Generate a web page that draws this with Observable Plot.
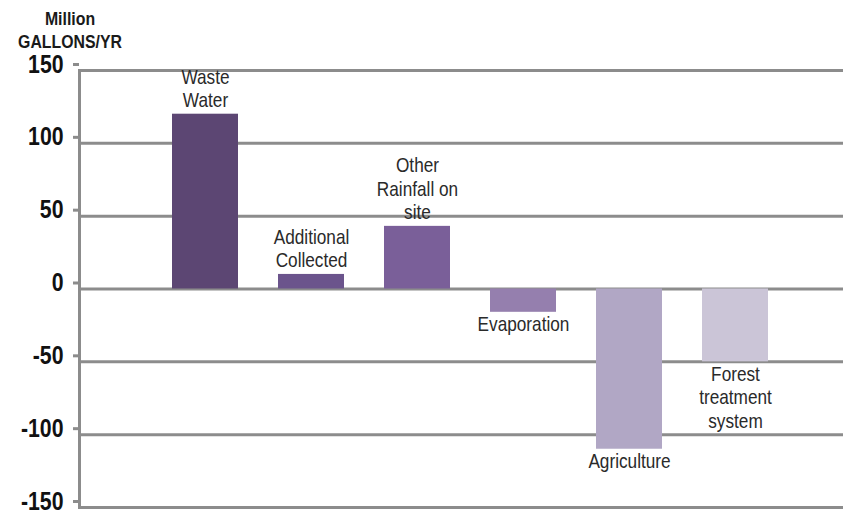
<!DOCTYPE html>
<html>
<head>
<meta charset="utf-8">
<script src="https://cdn.jsdelivr.net/npm/d3@7"></script>
<script src="https://cdn.jsdelivr.net/npm/@observablehq/plot@0.6"></script>
<style>
  html, body { margin: 0; padding: 0; background: #fff; }
  #wrap { position: relative; width: 843px; height: 512px; }
  #unit {
    position: absolute; left: 0; top: 8px; width: 140px;
    text-align: center; font-family: "Liberation Sans", Arial, sans-serif;
    font-weight: bold; font-size: 18px; line-height: 23px; color: #1a1a1a;
    transform: scaleX(0.88); transform-origin: 70px 0;
  }
  svg { display: block; }
</style>
</head>
<body>
<div id="wrap">
  <div id="chart"></div>
  <div id="unit">Million<br>GALLONS/YR</div>
</div>
<script>
// Annual water balance, million gallons per year
const categories = ["Waste Water", "Additional Collected", "Other Rainfall on site", "Evaporation", "Agriculture", "Forest treatment system"];
const labels = ["Waste\nWater", "Additional\nCollected", "Other\nRainfall on\nsite", "Evaporation", "Agriculture", "Forest\ntreatment\nsystem"];
const values = [120, 10, 43, -16, -110, -50];
const colors = ["#5c4673", "#6b548c", "#7a5f99", "#957fae", "#b1a7c5", "#cbc5d7"];
const yTicks = [150, 100, 50, 0, -50, -100, -150];

const rows = categories.map((c, i) => ({category: c, label: labels[i], value: values[i], color: colors[i]}));
const font = '"Liberation Sans", Arial, sans-serif';

const chart = Plot.plot({
  width: 843,
  height: 512,
  marginLeft: 79,
  marginRight: 0,
  marginTop: 70,
  marginBottom: 5,
  style: {fontFamily: font, fontSize: "21px", background: "#fff"},
  x: {domain: categories, range: [152, 788], paddingInner: 0.377, paddingOuter: 0.1885, axis: null},
  y: {domain: [-150, 150], axis: null},
  marks: [
    Plot.ruleY(yTicks, {stroke: "#8c8c8c", strokeWidth: 3}),
    Plot.barY(rows, {x: "category", y: "value", fill: "color"}),
    Plot.frame({anchor: "left", stroke: "#8c8c8c", strokeWidth: 3}),
    Plot.axisY(yTicks, {
      label: null, tickSize: 6, tickPadding: 10, stroke: "#8c8c8c", strokeWidth: 3,
      fill: "#111", fontSize: 25, fontWeight: "bold", dy: -6,
      tickFormat: d => String(d)
    }),
    Plot.text(rows.filter(d => d.value > 0), {
      x: "category", y: "value", text: "label", lineAnchor: "bottom",
      lineHeight: 1.12, dy: -7, fill: "#2a2a2a", fontSize: 21
    }),
    Plot.text(rows.filter(d => d.value < 0), {
      x: "category", y: "value", text: "label", lineAnchor: "top",
      lineHeight: 1.12, dy: 2, fill: "#2a2a2a", fontSize: 21
    })
  ]
});

// Narrow the glyphs around each text's own anchor for a condensed typeface look
chart.querySelectorAll("text").forEach(t => {
  const bold = t.closest("[font-weight='bold']") || t.getAttribute("font-weight") === "bold";
  const s = bold ? 0.85 : 0.82;
  t.setAttribute("transform", `${t.getAttribute("transform") || ""} scale(${s},1)`);
});

document.getElementById("chart").appendChild(chart);
</script>
</body>
</html>
